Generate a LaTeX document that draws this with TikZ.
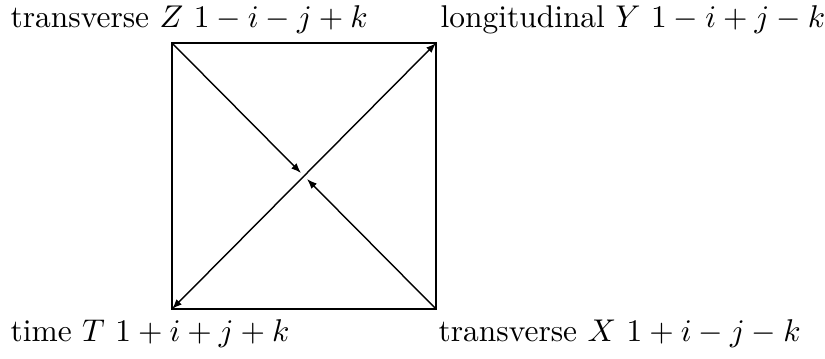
\documentclass[tikz,border=0pt]{standalone}
\usetikzlibrary{arrows.meta}
\begin{document}
\begin{tikzpicture}[x=0.318pt,y=-0.318pt,
  lbl/.style={anchor=base west,inner sep=0pt},
  frame/.style={line width=0.85pt},
  diag/.style={line width=0.45pt,-{Latex[length=3.2pt,width=2.4pt]}}]
\useasboundingbox (0,0) rectangle (825,358);
\coordinate (Z) at (172,43);
\coordinate (Y) at (436,43);
\coordinate (T) at (172,309);
\coordinate (X) at (436,309);
\coordinate (C) at (304,176);
\coordinate (cz) at (301,173);
\coordinate (cx) at (307,179);
\draw[frame] (Z) -- (Y) -- (X) -- (T) -- cycle;
\draw[diag] (Z) -- (cz);
\draw[diag] (X) -- (cx);
\draw[diag] (C) -- (Y);
\draw[diag] (C) -- (T);
\node[lbl] (lz) at (10,27) {transverse $Z$ $1-i-j+k$};
\node[lbl] (ly) at (440,27) {longitudinal $Y$ $1-i+j-k$};
\node[lbl] (lt) at (10,341) {time $T$ $1+i+j+k$};
\node[lbl] (lx) at (438,341) {transverse $X$ $1+i-j-k$};
\end{tikzpicture}
\end{document}
